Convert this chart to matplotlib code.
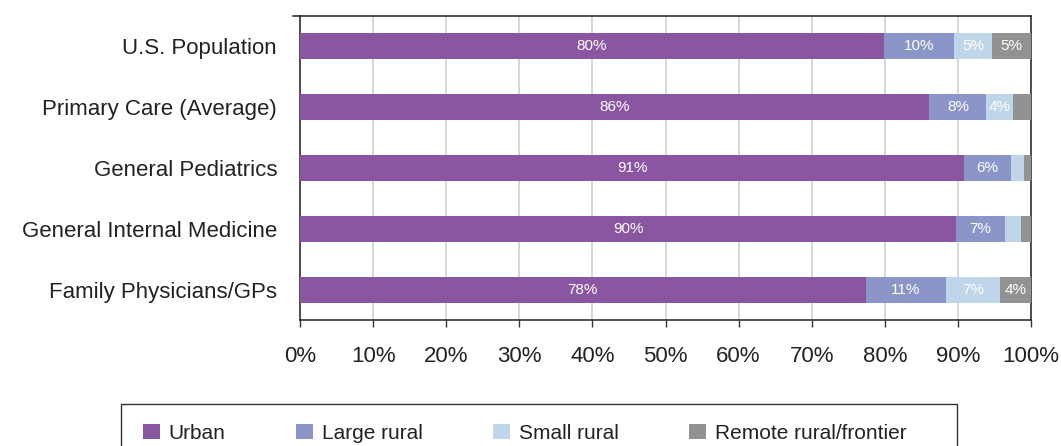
import matplotlib
matplotlib.use("Agg")
import matplotlib.pyplot as plt
from matplotlib.patches import Rectangle
import numpy as np

plt.rcParams['font.family'] = ['Liberation Sans', 'DejaVu Sans']

categories = ["U.S. Population", "Primary Care (Average)", "General Pediatrics",
              "General Internal Medicine", "Family Physicians/GPs"]
series_names = ["Urban", "Large rural", "Small rural", "Remote rural/frontier"]
urban = [79.9, 86.1, 90.9, 89.8, 77.4]
large_rural = [9.6, 7.8, 6.3, 6.6, 11.0]
small_rural = [5.2, 3.7, 1.8, 2.3, 7.4]
remote = [5.3, 2.4, 1.0, 1.3, 4.2]
bar_labels = [
    ["80%", "86%", "91%", "90%", "78%"],
    ["10%", "8%", "6%", "7%", "11%"],
    ["5%", "4%", "", "", "7%"],
    ["5%", "", "", "", "4%"],
]
colors = ["#8A55A1", "#8B95C7", "#BFD5EA", "#929292"]
xticks = list(range(0, 101, 10))
xtick_labels = [f"{t}%" for t in xticks]

fig = plt.figure(figsize=(10.61, 4.46), dpi=100)
ax = fig.add_axes([300/1061, 1-320/446, 731/1061, 304/446])

y = np.arange(len(categories))
left = np.zeros(len(categories))
handles = []
for vals, col, labs, name in zip([urban, large_rural, small_rural, remote], colors, bar_labels, series_names):
    vals = np.array(vals)
    b = ax.barh(y, vals, left=left, height=0.43, color=col, edgecolor='none', zorder=3, label=name)
    handles.append(b)
    for yi, (l, v, t) in enumerate(zip(left, vals, labs)):
        if t:
            ax.text(l + v/2, yi, t, ha='center', va='center', color='white', fontsize=11, zorder=4)
    left = left + vals

ax.set_xlim(0, 100)
ax.set_ylim(4.5, -0.5)
ax.set_yticks(y)
ax.set_yticklabels(categories, fontsize=16, color='#222222')
ax.tick_params(axis='y', length=0, pad=16.5)
ax.set_xticks(xticks)
ax.set_xticklabels(xtick_labels, fontsize=16, color='#222222')
ax.tick_params(axis='x', direction='out', length=5, width=1, color='#333333', pad=14)
ax.grid(axis='x', color='#d0d0d0', linewidth=1.2, zorder=0)
ax.set_axisbelow(True)
for s in ax.spines.values():
    s.set_color('#222222')
    s.set_linewidth(1.1)
ax.plot([-0.01, 0], [1, 1], transform=ax.transAxes, color='#222222', lw=1.1, clip_on=False)

# legend box
fig.patches.append(Rectangle((120.7/1061, -0.2), (956.7-120.7)/1061, 0.2 + (1-404/446),
                             transform=fig.transFigure, fill=False, edgecolor='#333333',
                             linewidth=1.0, zorder=1))
leg = fig.legend(handles=handles, labels=series_names, loc='center left',
                 bbox_to_anchor=(143/1061, 1-433.5/446),
                 ncol=4, fontsize=15, frameon=False,
                 handlelength=0.82, handleheight=0.75,
                 handletextpad=0.4, columnspacing=3.4, borderpad=0, borderaxespad=0)
for t in leg.get_texts():
    t.set_color('#222222')

fig.savefig("out.png", dpi=100)
